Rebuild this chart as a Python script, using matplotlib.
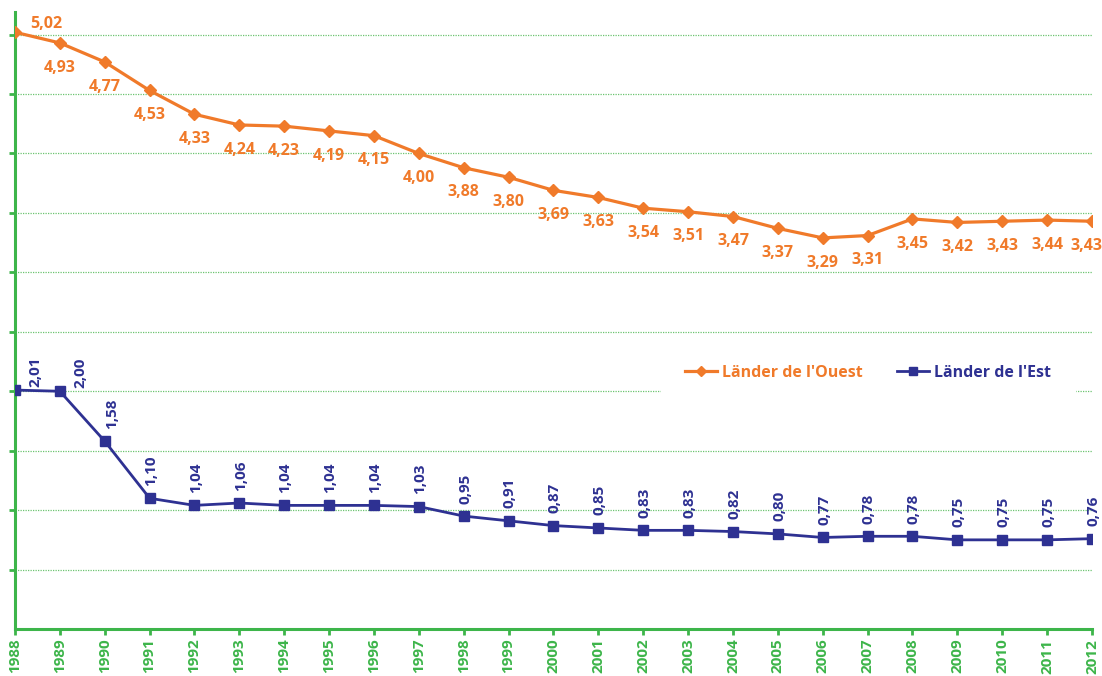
import matplotlib.pyplot as plt
import matplotlib

matplotlib.rcParams['font.family'] = ['Open Sans', 'DejaVu Sans']

# Données
annees = list(range(1988, 2013))
ouest = [5.02, 4.93, 4.77, 4.53, 4.33, 4.24, 4.23, 4.19, 4.15, 4.00, 3.88, 3.80,
         3.69, 3.63, 3.54, 3.51, 3.47, 3.37, 3.29, 3.31, 3.45, 3.42, 3.43, 3.44, 3.43]
est = [2.01, 2.00, 1.58, 1.10, 1.04, 1.06, 1.04, 1.04, 1.04, 1.03, 0.95, 0.91,
       0.87, 0.85, 0.83, 0.83, 0.82, 0.80, 0.77, 0.78, 0.78, 0.75, 0.75, 0.75, 0.76]

orange = '#F07A2A'
bleu = '#2E3192'
vert = '#3DB54A'

fig = plt.figure(figsize=(11.02, 6.76), dpi=100)
ax = fig.add_axes([0.0136, 0.0695, 0.9773, 0.9127])

ax.plot(annees, ouest, color=orange, lw=2.3, marker='D', ms=6.3,
        label="Länder de l'Ouest", zorder=3)
ax.plot(annees, est, color=bleu, lw=2.0, marker='s', ms=7,
        label="Länder de l'Est", zorder=3)

def fmt(v):
    return f"{v:.2f}".replace('.', ',')

# étiquettes de valeurs
for i, (a, v) in enumerate(zip(annees, ouest)):
    if i == 0:
        ax.annotate(fmt(v), (a, v), xytext=(11, 6), textcoords='offset points',
                    ha='left', va='center', color=orange, fontsize=11.5, fontweight='bold')
    else:
        dx = -4 if a == 2012 else 0
        ax.annotate(fmt(v), (a, v), xytext=(dx, -12), textcoords='offset points',
                    ha='center', va='top', color=orange, fontsize=11.5, fontweight='bold')

for i, (a, v) in enumerate(zip(annees, est)):
    if i < 2:
        off = (15, 2)
    elif i == 2:
        off = (5, 9)
    else:
        off = (1, 9)
    ax.annotate(fmt(v), (a, v), xytext=off, textcoords='offset points',
                ha='center', va='bottom', rotation=90, color=bleu,
                fontsize=11, fontweight='bold')

ax.set_xlim(1988, 2012)
ax.set_ylim(0, 5.19)
ax.set_xticks(annees)
ax.set_xticklabels([str(a) for a in annees], rotation=90, color=vert,
                   fontsize=11, fontweight='bold')
ax.set_yticks([0.5 * k for k in range(1, 11)])
ax.set_yticklabels([])
ax.tick_params(axis='both', colors=vert, width=2, length=4)
ax.tick_params(axis='x', pad=3)

for s in ['top', 'right']:
    ax.spines[s].set_visible(False)
for s in ['left', 'bottom']:
    ax.spines[s].set_color(vert)
    ax.spines[s].set_linewidth(2.2)

ax.grid(axis='y', color='#6CC470', ls=(0, (1, 1)), lw=0.9)
ax.set_axisbelow(True)

leg = ax.legend(loc='center', bbox_to_anchor=(0.792, 0.415), ncol=2, frameon=True,
                facecolor='white', edgecolor='white', framealpha=1, fontsize=11.5,
                handlelength=2.0, handletextpad=0.3, columnspacing=2.2,
                borderpad=1.5, markerscale=0.8)
for t, c in zip(leg.get_texts(), [orange, bleu]):
    t.set_color(c)
    t.set_fontweight('bold')

fig.savefig('out.png', dpi=100)
